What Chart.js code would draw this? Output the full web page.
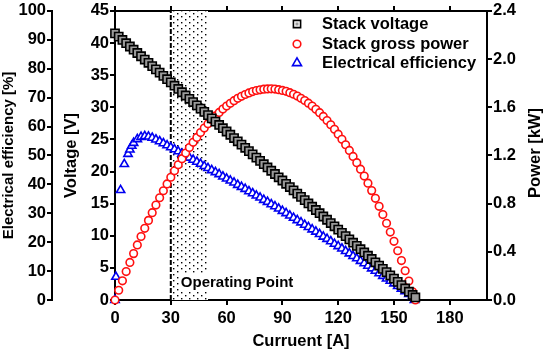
<!DOCTYPE html>
<html><head><meta charset="utf-8">
<script src="https://cdn.jsdelivr.net/npm/chart.js@4.4.1/dist/chart.umd.min.js"></script>
<style>html,body{margin:0;padding:0;background:#fff;}canvas{display:block}</style>
</head><body>
<canvas id="c" width="543" height="351"></canvas>
<script>
// ---- data ----
const current = [0,2,4,6,8,10,12,14,16,18,20,22,24,26,28,30,32,34,36,38,40,42,44,46,48,50,52,54,56,58,60,62,64,66,68,70,72,74,76,78,80,82,84,86,88,90,92,94,96,98,100,102,104,106,108,110,112,114,116,118,120,122,124,126,128,130,132,134,136,138,140,142,144,146,148,150,152,154,156,158,160,161.5];
const stackVoltage = [41.50,40.99,40.48,39.97,39.46,38.96,38.45,37.94,37.43,36.92,36.41,35.90,35.39,34.88,34.37,33.87,33.36,32.85,32.34,31.83,31.32,30.81,30.30,29.79,29.28,28.78,28.27,27.76,27.25,26.74,26.23,25.72,25.21,24.70,24.19,23.69,23.18,22.67,22.16,21.65,21.14,20.63,20.12,19.61,19.10,18.60,18.09,17.58,17.07,16.56,16.05,15.54,15.03,14.52,14.01,13.51,13.00,12.49,11.98,11.47,10.96,10.45,9.94,9.43,8.92,8.42,7.91,7.40,6.89,6.38,5.87,5.36,4.85,4.34,3.83,3.33,2.82,2.31,1.80,1.29,0.78,0.40];
const grossPower = [0,0.081,0.159,0.236,0.312,0.385,0.457,0.527,0.595,0.661,0.725,0.788,0.849,0.907,0.964,1.019,1.072,1.123,1.173,1.220,1.265,1.309,1.350,1.390,1.427,1.463,1.496,1.528,1.557,1.585,1.610,1.633,1.655,1.674,1.691,1.706,1.719,1.730,1.739,1.745,1.750,1.752,1.753,1.751,1.746,1.740,1.732,1.721,1.708,1.693,1.675,1.656,1.634,1.610,1.583,1.555,1.524,1.490,1.455,1.417,1.377,1.334,1.289,1.242,1.192,1.140,1.086,1.029,0.970,0.908,0.844,0.778,0.709,0.637,0.564,0.487,0.409,0.327,0.243,0.157,0.068,0];
const effCurrent = [0,0.5,3,5,7,8,9,10,12,14,16,18,20,22,24,26,28,30,32,34,36,38,40,42,44,46,48,50,52,54,56,58,60,62,64,66,68,70,72,74,76,78,80,82,84,86,88,90,92,94,96,98,100,102,104,106,108,110,112,114,116,118,120,122,124,126,128,130,132,134,136,138,140,142,144,146,148,150,152,154,156,158,160,161];
const efficiency = [0,8,38,47,50.5,52,53.3,54.3,55.6,56.4,56.7,56.5,56.1,55.5,54.9,54.2,53.5,52.8,52.1,51.4,50.6,49.9,49.2,48.5,47.8,47.1,46.3,45.6,44.9,44.2,43.5,42.7,42.0,41.3,40.6,39.8,39.1,38.4,37.6,36.9,36.1,35.4,34.6,33.9,33.1,32.4,31.6,30.8,30.0,29.2,28.4,27.6,26.8,26.0,25.2,24.4,23.6,22.8,21.9,21.1,20.3,19.4,18.6,17.8,16.9,16.1,15.2,14.4,13.5,12.7,11.8,10.9,10.1,9.2,8.3,7.4,6.6,5.7,4.8,3.9,3.0,2.1,1.2,0];
const xTickValues = [0,30,60,90,120,150,180];
const operatingRange = [30, 50];
const seriesLabels = ['Stack voltage','Stack gross power','Electrical efficiency'];
const axisTitles = {x:'Curruent [A]', eff:'Electrical efficiency [%]', volt:'Voltage [V]', power:'Power [kW]'};
const operatingLabel = 'Operating Point';

// ---- styling ----
const FONT = '"Liberation Sans", Arial, sans-serif';
Chart.defaults.font.family = FONT;
Chart.defaults.color = '#000';

function dotPattern(){
  const p = document.createElement('canvas');
  p.width = 8; p.height = 6;
  const g = p.getContext('2d');
  g.fillStyle = '#fff'; g.fillRect(0,0,8,6);
  g.fillStyle = '#000';
  g.fillRect(1,1,1.4,1.4);
  g.fillRect(5,4,1.4,1.4);
  return g.createPattern(p,'repeat');
}

const pts = (xs, ys) => xs.map((x,i)=>({x, y: ys[i]}));

const tickFont = {family: FONT, size: 16.5, weight: 'bold'};
const gridOpt = {drawOnChartArea:false, drawTicks:true, tickLength:5, color:'#000', lineWidth:2};
const borderOpt = {color:'#000', width:2};

const extras = {
  id:'extras',
  afterDatasetsDraw(chart){
    const ctx = chart.ctx;
    const xs = chart.scales.x;
    ctx.save();
    // operating point label
    ctx.font = 'bold 15px ' + FONT;
    const tw = ctx.measureText(operatingLabel).width;
    const tx = xs.getPixelForValue(operatingRange[0]) + 10;
    const ty = 283;
    ctx.fillStyle = '#fff';
    ctx.fillRect(tx-1, ty-9, tw+2, 17);
    ctx.fillStyle = '#000';
    ctx.textBaseline = 'middle';
    ctx.textAlign = 'left';
    ctx.fillText(operatingLabel, tx, ty);
    // legend
    const rows = [24, 44, 63];
    ctx.font = 'bold 16.5px ' + FONT;
    for (let i=0;i<3;i++){
      const ds = chart.data.datasets[i];
      const cx = 297, cy = rows[i];
      ctx.lineWidth = ds.borderWidth;
      ctx.strokeStyle = ds.borderColor;
      ctx.fillStyle = ds.pointStyle === 'rect' ? '#fff' : ds.backgroundColor;
      ctx.beginPath();
      if (ds.pointStyle === 'rect'){
        ctx.rect(cx-3.6, cy-3.6, 7.2, 7.2);
      } else if (ds.pointStyle === 'circle'){
        ctx.arc(cx, cy, 3.8, 0, Math.PI*2);
      } else {
        const r = 5.2;
        ctx.moveTo(cx, cy - r);
        ctx.lineTo(cx + r*0.866, cy + r*0.5);
        ctx.lineTo(cx - r*0.866, cy + r*0.5);
        ctx.closePath();
      }
      ctx.fill(); ctx.stroke();
      if (ds.pointStyle === 'rect'){
        ctx.fillStyle = ds.backgroundColor;
        ctx.fillRect(cx-1.5, cy-1.5, 3, 3);
      }
      ctx.fillStyle = '#000';
      ctx.fillText(ds.label, 322, cy);
    }
    // right axis title (reads bottom-to-top)
    ctx.translate(535, 153);
    ctx.rotate(-Math.PI/2);
    ctx.textAlign = 'center';
    ctx.fillText(axisTitles.power, 0, 0);
    ctx.restore();
  }
};

new Chart(document.getElementById('c'), {
  type: 'scatter',
  data: {
    datasets: [
      {label: seriesLabels[0], data: pts(current, stackVoltage), xAxisID:'x', yAxisID:'yV',
       pointStyle:'rect', pointRadius:5.8, borderColor:'#000', backgroundColor:'#9a9a9a', borderWidth:1.6, showLine:false, clip:false},
      {label: seriesLabels[1], data: pts(current, grossPower), xAxisID:'x', yAxisID:'yP',
       pointStyle:'circle', pointRadius:3.8, borderColor:'#ff1010', backgroundColor:'#fff', borderWidth:1.6, showLine:false, clip:false},
      {label: seriesLabels[2], data: pts(effCurrent, efficiency), xAxisID:'x', yAxisID:'yE',
       pointStyle:'triangle', pointRadius:4.8, borderColor:'#0000f0', backgroundColor:'#fff', borderWidth:1.6, showLine:false, clip:false},
      {label:'dash', data:[{x:operatingRange[0],y:0},{x:operatingRange[0],y:45}], xAxisID:'x', yAxisID:'yV',
       showLine:true, pointRadius:0, borderColor:'#000', borderWidth:2, borderDash:[5,2], order:5},
      {label:'region', data:[{x:operatingRange[0],y:45},{x:operatingRange[1],y:45}], xAxisID:'x', yAxisID:'yV',
       showLine:true, pointRadius:0, borderWidth:0, borderColor:'rgba(0,0,0,0)', backgroundColor: dotPattern(), fill:'origin', order:10}
    ]
  },
  options: {
    responsive:false, animation:false, devicePixelRatio:1,
    layout:{padding:0},
    plugins:{legend:{display:false}, tooltip:{enabled:false}},
    scales:{
      x:{type:'linear', position:'bottom', min:0, max:200,
         afterBuildTicks:s=>{s.ticks = xTickValues.map(v=>({value:v}));},
         afterFit:s=>{s.height = 51;},
         grid:gridOpt, border:borderOpt,
         ticks:{font:tickFont, color:'#000', padding:4, maxRotation:0, autoSkip:false},
         title:{display:true, text:axisTitles.x, font:{family:FONT,size:16.5,weight:'bold'}, color:'#000', padding:{top:0,bottom:0}}},
      xTop:{type:'linear', position:'top', min:0, max:200,
         afterBuildTicks:s=>{s.ticks = xTickValues.map(v=>({value:v}));},
         afterFit:s=>{s.height = 6;},
         grid:gridOpt, border:borderOpt, ticks:{display:false}},
      yE:{type:'linear', position:'left', weight:2, min:0, max:100,
         afterFit:s=>{s.width = 52;},
         grid:gridOpt, border:borderOpt,
         ticks:{stepSize:10, font:tickFont, color:'#000', padding:1},
         title:{display:true, text:axisTitles.eff, font:{family:FONT,size:15,weight:'bold'}, color:'#000', padding:{top:0,bottom:0}}},
      yV:{type:'linear', position:'left', weight:1, min:0, max:45,
         afterFit:s=>{s.width = 63;},
         grid:gridOpt, border:borderOpt,
         ticks:{stepSize:5, font:tickFont, color:'#000', padding:1},
         title:{display:true, text:axisTitles.volt, font:{family:FONT,size:16.5,weight:'bold'}, color:'#000', padding:{top:10,bottom:0}}},
      yP:{type:'linear', position:'right', min:0, max:2.4,
         afterFit:s=>{s.width = 56;},
         grid:gridOpt, border:borderOpt,
         ticks:{stepSize:0.4, font:tickFont, color:'#000', padding:1, callback:v=>Number(v).toFixed(1)}}
    }
  },
  plugins:[extras]
});
</script>
</body></html>
